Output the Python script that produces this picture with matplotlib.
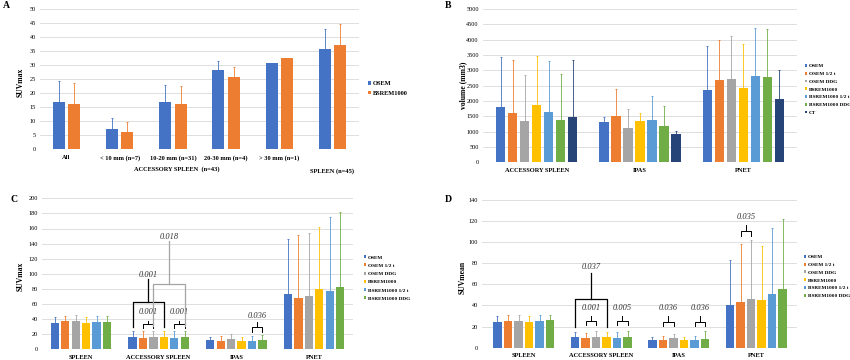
import numpy as np
import matplotlib
matplotlib.use('Agg')
import matplotlib.pyplot as plt

plt.rcParams['font.family'] = ['Liberation Serif', 'DejaVu Serif']

# ---------------- data ----------------
# panel A: SUVmax, OSEM vs BSREM1000 by accessory spleen size
a_cats = ['All', '< 10 mm (n=7)', '10-20 mm (n=31)', '20-30 mm (n=4)', '> 30 mm (n=1)', '']
a_names = ['OSEM', 'BSREM1000']
a_osem = [16.8, 7.2, 16.7, 28.3, 30.8, 35.6]
a_osem_sd = [7.4, 3.9, 6.2, 3.3, np.nan, 7.3]
a_bsrem = [16.1, 6.3, 16.1, 25.9, 32.4, 37.2]
a_bsrem_sd = [7.4, 3.6, 6.5, 3.6, np.nan, 7.4]

# panel B: volume (mm3)
b_cats = ['ACCESSORY SPLEEN', 'IPAS', 'PNET']
b_names = ['OSEM', 'OSEM 1/2 t', 'OSEM DDG', 'BSREM1000', 'BSREM1000 1/2 t', 'BSREM1000 DDG', 'CT']
b_vals = [
    [1790, 1300, 2370],
    [1600, 1520, 2680],
    [1350, 1110, 2710],
    [1860, 1340, 2420],
    [1630, 1390, 2830],
    [1380, 1200, 2780],
    [1480, 935, 2050],
]
b_sd = [
    [1630, 190, 1410],
    [1750, 860, 1310],
    [1500, 640, 1400],
    [1600, 260, 1430],
    [1690, 780, 1540],
    [1500, 650, 1560],
    [1850, 95, 960],
]

# panels C and D
cd_cats = ['SPLEEN', 'ACCESSORY SPLEEN', 'IPAS', 'PNET']
cd_names = ['OSEM', 'OSEM 1/2 t', 'OSEM DDG', 'BSREM1000', 'BSREM1000 1/2 t', 'BSREM1000 DDG']
c_vals = [
    [34.9, 16.8, 11.9, 72.8],
    [37.5, 15.0, 11.5, 67.5],
    [38.0, 16.8, 13.2, 70.6],
    [35.0, 16.3, 11.5, 80.4],
    [36.6, 15.0, 11.5, 77.7],
    [36.6, 16.3, 12.8, 82.6],
]
c_sd = [
    [7.5, 7.0, 4.4, 72.9],
    [7.1, 8.8, 6.2, 83.5],
    [7.5, 7.2, 6.7, 83.4],
    [7.4, 7.7, 4.8, 82.1],
    [7.4, 9.0, 6.2, 97.1],
    [7.4, 7.7, 6.2, 98.9],
]
d_vals = [
    [24.0, 10.1, 7.6, 40.0],
    [25.5, 9.5, 7.3, 43.2],
    [25.2, 10.1, 8.8, 46.4],
    [24.3, 10.1, 7.3, 45.4],
    [25.2, 9.5, 7.6, 50.5],
    [25.9, 10.1, 8.2, 55.5],
]
d_sd = [
    [6.0, 4.7, 2.2, 43.3],
    [5.1, 4.7, 3.7, 54.6],
    [5.4, 5.4, 4.1, 55.1],
    [5.7, 5.0, 2.5, 50.5],
    [5.4, 5.0, 3.4, 63.0],
    [5.3, 5.4, 7.9, 66.5],
]

# significance marks: (group, bar_i, bar_j, leg bottom, bar height, stem top, label y, text)
c_braces = [(1, 1, 2, 28, 33.5, 38, 49, '0.001'),
            (1, 4, 5, 28, 33.5, 38, 49, '0.001'),
            (2, 4, 5, 23, 29, 36, 44, '0.036')]
c_brackets = [(1, 0, 3, 30, 62, 93, 99, '0.001', 'black'),
              (1, 2, 5, 31, 87, 143, 149, '0.018', '#A5A5A5')]
d_braces = [(1, 1, 2, 21.4, 25, 30, 37.8, '0.001'),
            (1, 4, 5, 21.4, 25, 30, 37.8, '0.005'),
            (2, 1, 2, 20.8, 24.6, 30, 37.5, '0.036'),
            (2, 4, 5, 20.8, 24.6, 30, 37.5, '0.036'),
            (3, 1, 2, 106, 110.7, 116, 124, '0.035')]
d_brackets = [(1, 0, 3, 20, 45.7, 70.6, 76.5, '0.037', 'black')]

colors = ['#4472C4', '#ED7D31', '#A5A5A5', '#FFC000', '#5B9BD5', '#70AD47', '#264478']
W, H = 850, 360


def fig_rect(x0, y0, x1, y1):
    # pixel box -> figure fraction
    return [x0 / W, 1 - y1 / H, (x1 - x0) / W, (y1 - y0) / H]


def grouped(ax, ncat, vals, sds, names, step, width):
    x = np.arange(ncat)
    n = len(vals)
    for i in range(n):
        pos = x + (i - (n - 1) / 2) * step
        v = np.array(vals[i], dtype=float)
        e = np.array(sds[i], dtype=float)
        ax.bar(pos, v, width, color=colors[i], label=names[i], zorder=2)
        ok = ~np.isnan(e)
        ax.errorbar(pos[ok], v[ok], yerr=[np.zeros(ok.sum()), e[ok]], fmt='none',
                    ecolor=colors[i], elinewidth=0.6, capsize=1.0, capthick=0.6, zorder=3)


def style(ax, cats, ymax, ystep, tsize=4.5):
    ax.set_ylim(0, ymax)
    ax.set_yticks(np.arange(0, ymax + ystep / 2, ystep))
    ax.yaxis.grid(True, color='#D9D9D9', lw=0.6, zorder=0)
    ax.set_axisbelow(True)
    for s in ax.spines.values():
        s.set_visible(False)
    ax.tick_params(length=0, labelsize=tsize, pad=3)
    ax.set_xticks(np.arange(len(cats)))
    ax.set_xticklabels(cats, fontweight='bold', fontsize=4.6)
    ax.tick_params(axis='x', pad=4)


def legend(ax, x, y, size, spacing):
    ax.legend(loc='center left', bbox_to_anchor=(x / W, 1 - y / H), bbox_transform=fig.transFigure,
              frameon=False, prop={'size': size, 'weight': 'bold'}, handlelength=0.45,
              handleheight=0.45, handletextpad=0.3, labelspacing=spacing, borderpad=0)


def pos(g, i, n, step):
    return g + (i - (n - 1) / 2) * step


def add_marks(ax, braces, brackets, n, step):
    for g, i, j, lo, h, top, ly, txt in braces:
        x1, x2 = pos(g, i, n, step), pos(g, j, n, step)
        xm = (x1 + x2) / 2
        ax.plot([x1, x1, x2, x2], [lo, h, h, lo], color='black', lw=0.7, zorder=4)
        ax.plot([xm, xm], [h, top], color='black', lw=0.7, zorder=4)
        ax.text(xm, ly, txt, ha='center', va='center', fontsize=6, style='italic', color='#333333')
    for g, i, j, lo, h, top, ly, txt, c in brackets:
        x1, x2 = pos(g, i, n, step), pos(g, j, n, step)
        xm = (x1 + x2) / 2
        ax.plot([x1, x1, x2, x2], [lo, h, h, lo], color=c, lw=0.9, zorder=4)
        ax.plot([xm, xm], [h, top], color=c, lw=0.9, zorder=4)
        ax.text(xm, ly, txt, ha='center', va='center', fontsize=6, style='italic', color='#333333')


fig = plt.figure(figsize=(8.5, 3.6), dpi=100)

# A
axA = fig.add_axes(fig_rect(40, 9, 359, 149.3))
grouped(axA, len(a_cats), [a_osem, a_bsrem], [a_osem_sd, a_bsrem_sd], a_names, 0.29, 0.225)
style(axA, a_cats, 50, 5)
axA.set_xlim(-0.5, 5.5)
legend(axA, 365, 88.5, 4.6, 0.75)
fig.text(177 / W, 1 - 169 / H, 'ACCESSORY SPLEEN  (n=43)', ha='center', va='center',
         fontsize=4.6, fontweight='bold')
fig.text(332 / W, 1 - 171 / H, 'SPLEEN (n=45)', ha='center', va='center',
         fontsize=4.6, fontweight='bold')

# B
axB = fig.add_axes(fig_rect(483, 9, 797, 162.3))
grouped(axB, len(b_cats), b_vals, b_sd, b_names, 0.116, 0.09)
style(axB, b_cats, 5000, 500)
axB.set_xlim(-0.52, 2.52)
legend(axB, 802, 89.5, 3.8, 0.65)

# C
axC = fig.add_axes(fig_rect(42, 198.3, 353, 349.3))
grouped(axC, len(cd_cats), c_vals, c_sd, cd_names, 0.134, 0.107)
style(axC, cd_cats, 200, 20)
axC.set_xlim(-0.5, 3.5)
add_marks(axC, c_braces, c_brackets, 6, 0.134)
legend(axC, 361, 278, 3.8, 0.75)

# D
axD = fig.add_axes(fig_rect(482, 199.7, 797, 347.7))
grouped(axD, len(cd_cats), d_vals, d_sd, cd_names, 0.136, 0.11)
style(axD, cd_cats, 140, 20)
axD.set_xlim(-0.54, 3.525)
add_marks(axD, d_braces, d_brackets, 6, 0.136)
legend(axD, 801, 276.5, 3.8, 0.65)

# y labels and panel letters
for x, y, t in [(21, 82, 'SUVmax'), (463, 85, 'volume (mm3)'), (21, 276, 'SUVmax'), (463, 277, 'SUVmean')]:
    fig.text(x / W, 1 - y / H, t, rotation=90, ha='center', va='center', fontsize=5.5, fontweight='bold')
for x, y, t in [(6, 6, 'A'), (448, 5, 'B'), (14, 199, 'C'), (448, 199, 'D')]:
    fig.text(x / W, 1 - y / H, t, ha='center', va='center', fontsize=7, fontweight='bold')

fig.savefig('out.png', dpi=100)
